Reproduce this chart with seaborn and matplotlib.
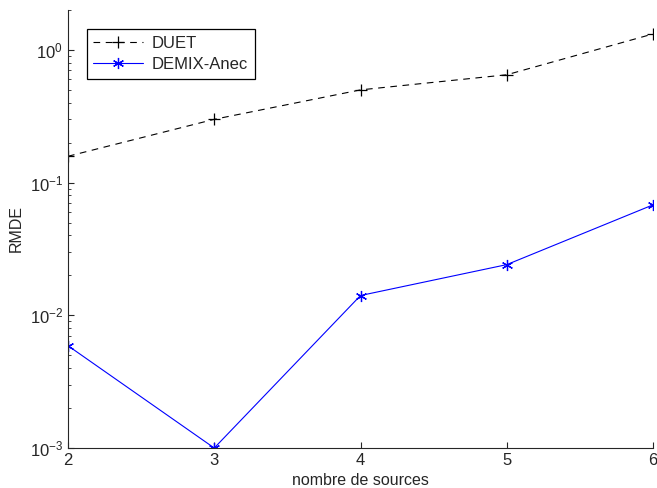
import pandas as pd
import matplotlib.pyplot as plt
import seaborn as sns

# values
sources = [2, 3, 4, 5, 6]
duet = [0.158, 0.30, 0.50, 0.65, 1.32]
demix = [0.0059, 0.001, 0.0141, 0.0241, 0.068]

sns.set_style("ticks")
plt.rcParams["font.family"] = ["Liberation Sans", "DejaVu Sans"]

fig = plt.figure(figsize=(6.57, 4.88), dpi=100)
ax = fig.add_axes([68 / 657, 40 / 488, 585 / 657, 438 / 488])

sns.lineplot(x=sources, y=duet, color="black", linestyle=(0, (6, 5)), marker="+",
             markersize=9, markeredgewidth=0.9, markeredgecolor="black",
             linewidth=0.8, label="DUET", ax=ax)
sns.lineplot(x=sources, y=demix, color="blue", linestyle="-", marker=(6, 2, 0),
             markersize=8, markeredgewidth=0.9, markeredgecolor="blue",
             linewidth=0.8, label="DEMIX-Anec", ax=ax)

ax.set_yscale("log")
ax.set_xlim(2, 6)
ax.set_ylim(1e-3, 2)
ax.set_xticks(sources)
ax.tick_params(direction="in", labelsize=12, length=4)
ax.tick_params(which="minor", direction="in", length=2.5)
ax.set_xlabel("nombre de sources", fontsize=11.5)
ax.set_ylabel("RMDE", fontsize=11.5)
sns.despine(ax=ax)

leg = ax.legend(loc="upper left", bbox_to_anchor=(0.032, 0.957), borderaxespad=0,
                fontsize=12, fancybox=False, framealpha=1, edgecolor="black",
                handlelength=3, handletextpad=0.5, borderpad=0.4, labelspacing=0.4)
leg.get_frame().set_linewidth(0.9)

fig.savefig("out.png", dpi=100)
